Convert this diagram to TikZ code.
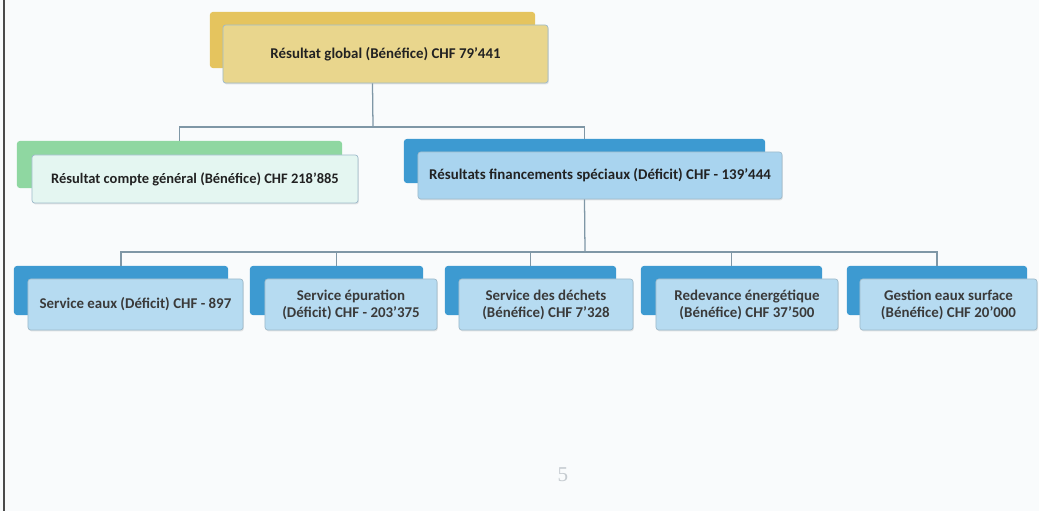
\documentclass[tikz,border=0pt]{standalone}
\usepackage{fontspec}
\setmainfont{Carlito}
\newfontfamily\pagenumfont{Liberation Serif}
\usetikzlibrary{shadows}
\definecolor{PageBg}{HTML}{F9FBFC}
\definecolor{PageEdge}{HTML}{4A4A4A}
\definecolor{GoldBack}{HTML}{E5C45E}
\definecolor{GoldFront}{HTML}{E9D68D}
\definecolor{MintBack}{HTML}{8FD7A1}
\definecolor{MintFront}{HTML}{E4F6F1}
\definecolor{SkyBack}{HTML}{3D9AD1}
\definecolor{SkyFront}{HTML}{A9D4EF}
\definecolor{SkyPale}{HTML}{B6DBF1}
\definecolor{FrameLine}{HTML}{9FBBCB}
\definecolor{LinkLine}{HTML}{7F97A6}
\definecolor{TextDark}{HTML}{222222}
\definecolor{TextSoft}{HTML}{3A3A3A}
\definecolor{NumGray}{HTML}{C5CBD0}

\begin{document}
\begin{tikzpicture}[
        x=0.025cm, y=-0.025cm,
        font=\fontsize{10.6}{12.2}\selectfont\bfseries,
        backbox/.style={
            rounded corners=2pt,
            inner sep=0pt
        },
        frontbox/.style={
            rounded corners=2pt,
            draw=FrameLine,
            line width=0.5pt,
            inner sep=1pt,
            align=center,
            text=TextDark,
            drop shadow={shadow xshift=0.6pt, shadow yshift=-1pt, opacity=0.2}
        },
        lowfront/.style={
            frontbox,
            fill=SkyPale,
            text=TextSoft,
            minimum height=1.275cm
        },
        lowback/.style={
            backbox,
            fill=SkyBack,
            minimum height=1.225cm
        },
        link/.style={line width=0.9pt, draw=LinkLine}
    ]
        \useasboundingbox[fill=PageBg] (0,0) rectangle (1039,511);
        \draw[PageEdge, line width=1.4pt] (4,0) -- (4,511);

        \node[backbox, fill=GoldBack, minimum width=8.125cm, minimum height=1.4cm] (globalback) at (372.5,40) {};
        \node[frontbox, fill=GoldFront, minimum width=8.125cm, minimum height=1.45cm] (global) at (385.5,54) {Résultat global (Bénéfice) CHF 79'441};

        \node[backbox, fill=MintBack, minimum width=8.125cm, minimum height=1.175cm] (generalback) at (179.5,164.5) {};
        \node[frontbox, fill=MintFront, minimum width=8.15cm, minimum height=1.2cm, font=\fontsize{10.3}{11.5}\selectfont\bfseries] (general) at (195,179) {Résultat compte général (Bénéfice) CHF 218'885};

        \node[backbox, fill=SkyBack, minimum width=9.025cm, minimum height=1.1cm] (specialback) at (584.5,161) {};
        \node[frontbox, fill=SkyFront, minimum width=9.1cm, minimum height=1.175cm] (special) at (600,175.5) {Résultats financements spéciaux (Déficit) CHF - 139'444};

        \node[lowback, minimum width=5.35cm] (eauxback) at (121,290.5) {};
        \node[lowfront, minimum width=5.375cm] (eaux) at (135.5,304.5) {Service eaux (Déficit) CHF - 897};
        \node[lowback, minimum width=4.325cm] (epurback) at (336.5,290.5) {};
        \node[lowfront, minimum width=4.3cm] (epur) at (351,304.5) {Service épuration\\(Déficit) CHF - 203'375};
        \node[lowback, minimum width=4.275cm] (dechetback) at (530.5,290.5) {};
        \node[lowfront, minimum width=4.35cm] (dechet) at (546,304.5) {Service des déchets\\(Bénéfice) CHF 7'328};
        \node[lowback, minimum width=4.525cm] (energieback) at (731.5,290.5) {};
        \node[lowfront, minimum width=4.55cm] (energie) at (747,304.5) {Redevance énergétique\\(Bénéfice) CHF 37'500};
        \node[lowback, minimum width=4.5cm] (surfaceback) at (937,290.5) {};
        \node[lowfront, minimum width=4.425cm] (surface) at (948.5,304.5) {Gestion eaux surface\\(Bénéfice) CHF 20'000};

        \coordinate (busTop) at (373,127);
        \coordinate (busLow) at (585,252);

        \draw[link] (global.south -| globalback) -- (busTop);
        \draw[link] (busTop) -| (generalback.north);
        \draw[link] (busTop) -| (specialback.north);
        \draw[link] (special.south -| specialback) -- (busLow);
        \foreach \kid in {eauxback, epurback, dechetback, energieback, surfaceback}
            \draw[link] (busLow) -| (\kid.north);

        \node[font=\pagenumfont\fontsize{15}{15}\selectfont, text=NumGray] (pagenum) at (563,475) {5};
    \end{tikzpicture}
\end{document}
